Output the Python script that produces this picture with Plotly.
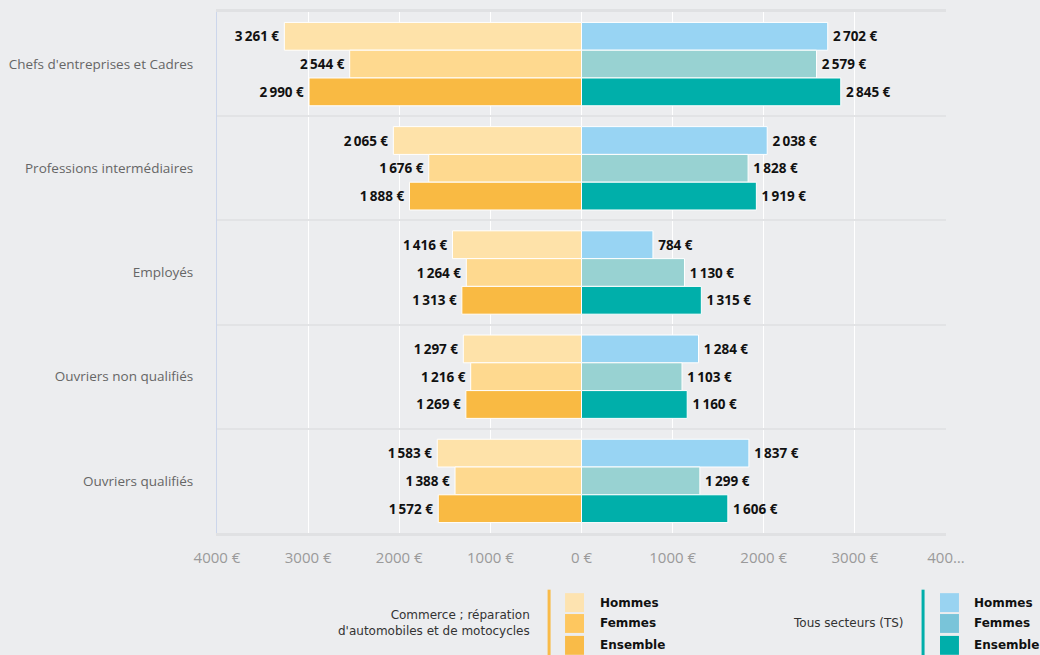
import plotly.graph_objects as go

categories = ["Chefs d'entreprises et Cadres", "Professions intermédiaires", "Employés",
              "Ouvriers non qualifiés", "Ouvriers qualifiés"]
subgroups = ["Hommes", "Femmes", "Ensemble"]

commerce_hommes = [3261, 2065, 1416, 1297, 1583]
commerce_femmes = [2544, 1676, 1264, 1216, 1388]
commerce_ensemble = [2990, 1888, 1313, 1269, 1572]

ts_hommes = [2702, 2038, 784, 1284, 1837]
ts_femmes = [2579, 1828, 1130, 1103, 1299]
ts_ensemble = [2845, 1919, 1315, 1160, 1606]

tick_values = [-4000, -3000, -2000, -1000, 0, 1000, 2000, 3000, 4000]
tick_labels = ["4000 €", "3000 €", "2000 €", "1000 €", "0 €", "1000 €", "2000 €", "3000 €", "400…"]

commerce_title = "Commerce ; réparation<br>d'automobiles et de motocycles"
ts_title = "Tous secteurs (TS)"

commerce_bar_colors = ["#fee2a9", "#fed98f", "#f9ba43"]
ts_bar_colors = ["#98d4f3", "#98d2d2", "#00afaa"]
commerce_legend_colors = ["#fde3b0", "#fec75f", "#f9bb48"]
ts_legend_colors = ["#99d3f1", "#79c4d9", "#00aeaa"]


def fmt(v):
    return f"{v:,}".replace(",", "\u2009") + "\u00a0€"


fig = go.Figure()
commerce_series = [commerce_hommes, commerce_femmes, commerce_ensemble]
ts_series = [ts_hommes, ts_femmes, ts_ensemble]
label_font = dict(family="Open Sans", size=13.5, color="#111111", weight="bold")

for i, sub in enumerate(subgroups):
    fig.add_trace(go.Bar(
        y=categories, x=[-v for v in commerce_series[i]], orientation="h",
        offsetgroup=sub, name="Commerce " + sub,
        marker=dict(color=commerce_bar_colors[i], line=dict(color="white", width=1)),
        text=[fmt(v) + "\u2009" for v in commerce_series[i]], textposition="outside",
        textfont=label_font, cliponaxis=False, showlegend=False,
    ))
    fig.add_trace(go.Bar(
        y=categories, x=ts_series[i], orientation="h",
        offsetgroup=sub, name="TS " + sub,
        marker=dict(color=ts_bar_colors[i], line=dict(color="white", width=1)),
        text=["\u2009" + fmt(v) for v in ts_series[i]], textposition="outside",
        textfont=label_font, cliponaxis=False, showlegend=False,
    ))

W, H = 1040, 655
ml, mr, mt, mb = 215, 94, 9, 122
pw, ph = W - ml - mr, H - mt - mb


def px_x(x):
    return (x - ml) / pw


def px_y(y):
    return (H - mb - y) / ph


shapes = []
annotations = []
row_y = [603, 624, 646]


def legend_group(title, colors, line_x, sw_x0, text_x, title_right, line_color):
    shapes.append(dict(type="line", xref="paper", yref="paper",
                       x0=px_x(line_x), x1=px_x(line_x), y0=px_y(590), y1=px_y(660),
                       line=dict(color=line_color, width=3)))
    for i, sub in enumerate(subgroups):
        shapes.append(dict(type="rect", xref="paper", yref="paper",
                           x0=px_x(sw_x0), x1=px_x(sw_x0 + 19),
                           y0=px_y(row_y[i] + 9.5), y1=px_y(row_y[i] - 9.5),
                           fillcolor=colors[i], line=dict(width=0)))
        annotations.append(dict(xref="paper", yref="paper", x=px_x(text_x), y=px_y(row_y[i]),
                                text="<b>" + sub + "</b>", showarrow=False,
                                xanchor="left", yanchor="middle",
                                font=dict(family="DejaVu Sans", size=12, color="#111111")))
    annotations.append(dict(xref="paper", yref="paper", x=px_x(title_right), y=px_y(624),
                            text=title, showarrow=False, xanchor="right", yanchor="middle",
                            align="right",
                            font=dict(family="DejaVu Sans", size=12, color="#333333")))


legend_group(commerce_title, commerce_legend_colors, 548, 564, 597, 531, "#f9bb48")
legend_group(ts_title, ts_legend_colors, 923, 940, 972, 906, "#00aeaa")

fig.update_layout(
    width=W, height=H, autosize=False,
    margin=dict(l=ml, r=mr, t=mt, b=mb),
    paper_bgcolor="#ecedef", plot_bgcolor="#ecedef",
    barmode="group", bargap=0.2, bargroupgap=0,
    showlegend=False,
    shapes=shapes, annotations=annotations,
    font=dict(family="Open Sans"),
    xaxis=dict(range=[-4000, 4000], tickvals=tick_values, ticktext=tick_labels,
               showgrid=True, gridcolor="#ffffff", gridwidth=1, zeroline=False,
               showline=True, linecolor="#e0e1e3", linewidth=3, mirror=True,
               tickfont=dict(family="Open Sans", size=15, color="#9a9a9a"),
               ticks="", ticklabelstandoff=9),
    yaxis=dict(autorange="reversed", type="category", tickson="boundaries",
               showgrid=True, gridcolor="#e2e3e5", gridwidth=2,
               showline=True, linecolor="#ccd6eb", linewidth=1,
               ticks="", ticklabelstandoff=20,
               tickfont=dict(family="Open Sans", size=13.5, color="#666666")),
)

fig.write_html("out.html", config={"displayModeBar": False},
               post_script="document.body.style.margin='0';document.body.style.overflow='hidden';")
